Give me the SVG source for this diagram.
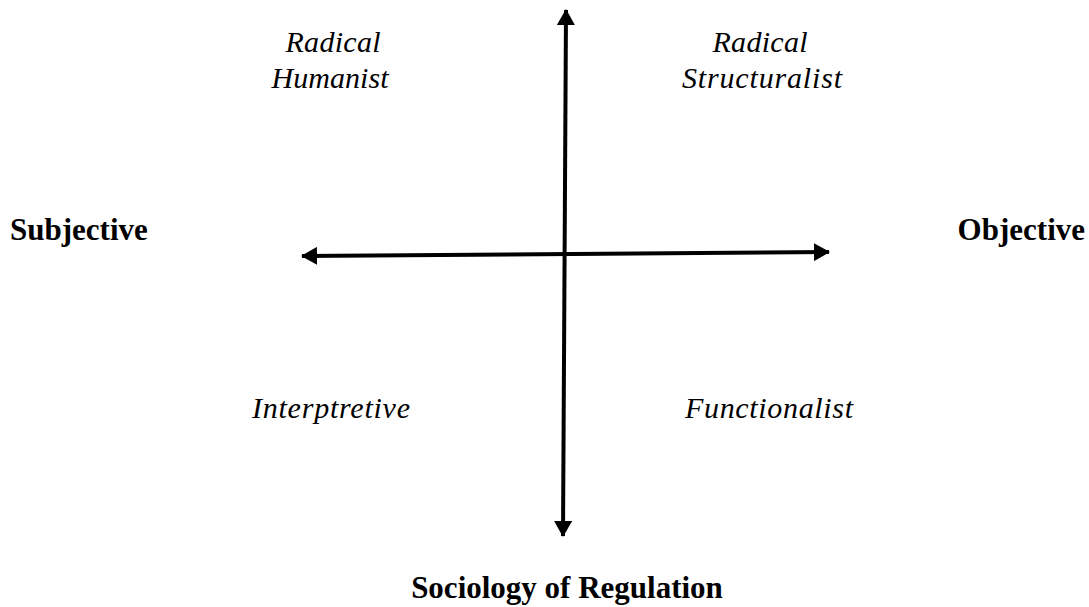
<svg xmlns="http://www.w3.org/2000/svg" width="1089" height="607" viewBox="0 0 1089 607">
<style>
.q{font-family:"Liberation Serif","Times New Roman",serif;font-style:italic;font-size:30px;fill:#000}
.b{font-family:"Liberation Serif","Times New Roman",serif;font-weight:bold;font-size:31px;fill:#000}
.ax{stroke:#000;stroke-width:4;fill:none}
</style>
<defs>
<marker id="ah" viewBox="0 0 16 18" refX="15" refY="9" markerWidth="16" markerHeight="18" markerUnits="userSpaceOnUse" orient="auto-start-reverse">
<path d="M0,0 L16,9 L0,18 Z" fill="#000"/>
</marker>
</defs>
<rect width="1089" height="607" fill="#fff"/>
<g id="connectors">
<line class="ax" x1="566" y1="10" x2="563" y2="536" marker-start="url(#ah)" marker-end="url(#ah)"/>
<line class="ax" x1="302" y1="256" x2="829" y2="252" marker-start="url(#ah)" marker-end="url(#ah)"/>
</g>
<g id="radical-humanist">
<text class="q" x="333" y="52" text-anchor="middle" textLength="95" lengthAdjust="spacing">Radical</text>
<text class="q" x="330" y="88" text-anchor="middle" textLength="117" lengthAdjust="spacing">Humanist</text>
</g>
<g id="radical-structuralist">
<text class="q" x="760" y="52" text-anchor="middle" textLength="95" lengthAdjust="spacing">Radical</text>
<text class="q" x="762" y="88" text-anchor="middle" textLength="160" lengthAdjust="spacing">Structuralist</text>
</g>
<g id="interpretive">
<text class="q" x="331" y="418" text-anchor="middle" textLength="158" lengthAdjust="spacing">Interptretive</text>
</g>
<g id="functionalist">
<text class="q" x="769" y="418" text-anchor="middle" textLength="168" lengthAdjust="spacing">Functionalist</text>
</g>
<g id="subjective">
<text class="b" x="10" y="240">Subjective</text>
</g>
<g id="objective">
<text class="b" x="1085" y="240" text-anchor="end">Objective</text>
</g>
<g id="sociology-of-regulation">
<text class="b" x="567" y="598" text-anchor="middle">Sociology of Regulation</text>
</g>
</svg>
